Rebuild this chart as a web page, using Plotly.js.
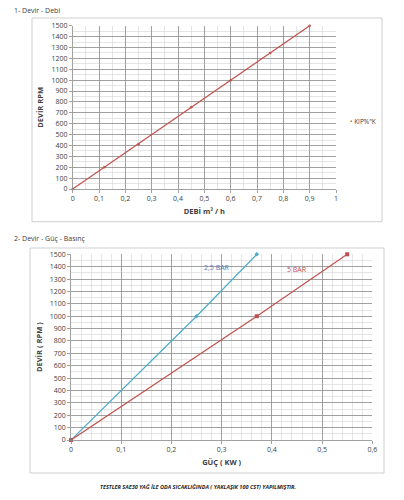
<!DOCTYPE html>
<html>
<head>
<meta charset="utf-8">
<script src="https://cdn.plot.ly/plotly-3.0.1.min.js"></script>
<style>html,body{margin:0;padding:0;background:#fff;}#chart{width:404px;height:500px;}</style>
</head>
<body>
<div id="chart"></div>
<script>
// Chart 1: Devir - Debi
const debi = [0, 0.12, 0.25, 0.45, 0.6, 0.75, 0.9];
const devir1 = [0, 200, 410, 750, 1000, 1250, 1500];
// Chart 2: Devir - Güç - Basınç
const guc25 = [0, 0.25, 0.37];
const devir25 = [0, 1000, 1500];
const guc5 = [0, 0.37, 0.55];
const devir5 = [0, 1000, 1500];
const seriesNames = ['2,5 BAR', '5 BAR'];
const legend1 = 'KIP%"K';

const W = 404, H = 500;
const px = v => v / W;
const py = v => 1 - v / H;

const F = 'Open Sans, Liberation Sans, sans-serif';
const tickFont = {family: F, size: 7, color: '#404040'};
const majorGrid = '#8a8a8a', minorGrid = '#d4d4d4';

function xax(domain, range, dtick, minorDtick, anchor, title) {
  return {
    domain: domain, range: range, dtick: dtick, tick0: 0, anchor: anchor,
    showgrid: true, gridcolor: majorGrid, gridwidth: 0.8,
    minor: {dtick: minorDtick, tick0: 0, showgrid: true, gridcolor: minorGrid, gridwidth: 0.6},
    showline: true, linecolor: '#8a8a8a', linewidth: 0.8,
    ticks: 'outside', ticklen: 3, tickcolor: '#8a8a8a', tickwidth: 0.8,
    tickfont: tickFont, zeroline: false, fixedrange: true,
    title: {text: title, font: {family: F, size: 7.5, color: '#404040', weight: 'bold'}, standoff: 6}
  };
}
function yax(domain, anchor, title) {
  return {
    domain: domain, range: [0, 1500], dtick: 100, tick0: 0, anchor: anchor,
    showgrid: true, gridcolor: majorGrid, gridwidth: 0.8,
    minor: {dtick: 50, tick0: 0, showgrid: true, gridcolor: minorGrid, gridwidth: 0.6},
    showline: true, linecolor: '#8a8a8a', linewidth: 0.8,
    ticks: 'outside', ticklen: 3, tickcolor: '#8a8a8a', tickwidth: 0.8,
    tickfont: tickFont, zeroline: false, fixedrange: true,
    title: {text: title, font: {family: F, size: 7.5, color: '#404040', weight: 'bold'}, standoff: 6}
  };
}

const traces = [
  {x: debi, y: devir1, xaxis: 'x', yaxis: 'y', mode: 'lines+markers', name: legend1,
   line: {color: '#c0504d', width: 1.2}, marker: {color: '#c0504d', size: 2.5}, showlegend: false, cliponaxis: false},
  {x: guc25, y: devir25, xaxis: 'x2', yaxis: 'y2', mode: 'lines+markers', name: seriesNames[0],
   line: {color: '#4bacc6', width: 1.2}, marker: {color: '#4bacc6', size: 3.5, symbol: 'diamond'}, showlegend: false, cliponaxis: false},
  {x: guc5, y: devir5, xaxis: 'x2', yaxis: 'y2', mode: 'lines+markers', name: seriesNames[1],
   line: {color: '#c0504d', width: 1.2}, marker: {color: '#c0504d', size: 4, symbol: 'square'}, showlegend: false, cliponaxis: false}
];

const layout = {
  width: W, height: H,
  margin: {l: 0, r: 0, t: 0, b: 0},
  paper_bgcolor: '#fff', plot_bgcolor: '#fff',
  separators: ',.',
  showlegend: false,
  xaxis: xax([px(72.7), px(336)], [0, 1], 0.1, 0.05, 'y', 'DEBİ m³ / h'),
  yaxis: yax([py(189), py(25.7)], 'x', 'DEVİR RPM'),
  xaxis2: xax([px(71), px(372.3)], [0, 0.6], 0.1, 0.02, 'y2', 'GÜÇ ( KW )'),
  yaxis2: yax([py(440), py(254.3)], 'x2', 'DEVİR ( RPM )'),
  shapes: [
    {type: 'rect', xref: 'paper', yref: 'paper', x0: px(32), x1: px(382), y0: py(221.7), y1: py(18),
     line: {color: '#cfcfcf', width: 1}, layer: 'below'},
    {type: 'rect', xref: 'paper', yref: 'paper', x0: px(30), x1: px(384), y0: py(473), y1: py(248),
     line: {color: '#cfcfcf', width: 1}, layer: 'below'}
  ],
  annotations: [
    {xref: 'paper', yref: 'paper', x: px(12), y: py(10), xanchor: 'left', yanchor: 'middle', showarrow: false,
     text: '1- Devir - Debi', font: {family: F, size: 7, color: '#404040'}},
    {xref: 'paper', yref: 'paper', x: px(12), y: py(238.5), xanchor: 'left', yanchor: 'middle', showarrow: false,
     text: '2- Devir - Güç - Basınç', font: {family: F, size: 7, color: '#404040'}},
    {xref: 'paper', yref: 'paper', x: px(348), y: py(121.5), xanchor: 'left', yanchor: 'middle', showarrow: false,
     text: '<span style="color:#c0504d">•</span> ' + legend1, font: {family: F, size: 6.5, color: '#404040'}},
    {xref: 'x2', yref: 'y2', x: 0.29, y: 1397, showarrow: false, text: seriesNames[0],
     font: {family: F, size: 7, color: '#4a7ebb'}},
    {xref: 'x2', yref: 'y2', x: 0.45, y: 1378, showarrow: false, text: seriesNames[1],
     font: {family: F, size: 7, color: '#c0504d'}},
    {xref: 'paper', yref: 'paper', x: px(198), y: py(487), xanchor: 'center', yanchor: 'middle', showarrow: false,
     text: '<b><i>TESTLER SAE30 YAĞ İLE ODA SICAKLIĞINDA ( YAKLAŞIK 100 CST) YAPILMIŞTIR.</i></b>',
     font: {family: F, size: 5.5, color: '#262626'}}
  ]
};

Plotly.newPlot('chart', traces, layout, {staticPlot: true, displayModeBar: false});
</script>
</body>
</html>
